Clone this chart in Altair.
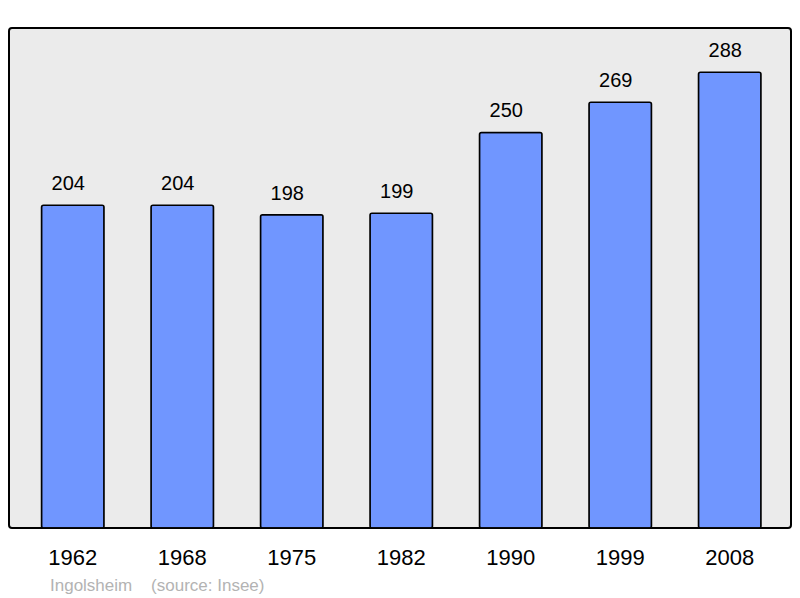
import altair as alt
import pandas as pd

years = ["1962", "1968", "1975", "1982", "1990", "1999", "2008"]
population = [204, 204, 198, 199, 250, 269, 288]
footer = "Ingolsheim\u00a0\u00a0\u00a0\u00a0(source: Insee)"

df = pd.DataFrame({"year": years, "pop": population})

FONT = "Liberation Sans"

x = alt.X(
    "year:N",
    sort=None,
    title=None,
    scale=alt.Scale(paddingInner=0.429, paddingOuter=0.2855, align=0.52),
    axis=alt.Axis(
        labelAngle=0,
        labelFontSize=22,
        labelFont=FONT,
        labelColor="black",
        domain=False,
        ticks=False,
        tickSize=0,
        labelPadding=19,
        grid=False,
    ),
)
y = alt.Y("pop:Q", scale=alt.Scale(domain=[0, 316], nice=False, zero=True), axis=None)

bars = alt.Chart(df).mark_bar(
    color="#7096ff", stroke="black", strokeWidth=1.5, cornerRadius=2
).encode(x=x, y=y)

labels = alt.Chart(df).mark_text(
    baseline="alphabetic", dy=-15, dx=-4.5, fontSize=20, font=FONT, color="black"
).encode(x=x, y=y, text="pop:Q")

chart = (
    (bars + labels)
    .properties(
        width=782,
        height=500,
        autosize="none",
        padding={"left": 1, "top": 20, "right": 1, "bottom": 69},
        title=alt.TitleParams(
            text=footer,
            orient="bottom",
            anchor="start",
            frame="group",
            fontSize=17,
            font=FONT,
            fontWeight="normal",
            color="#b3b3b3",
            dx=41,
            offset=10,
        ),
    )
    .configure_view(fill="#ebebeb", stroke="black", strokeWidth=2, cornerRadius=3)
)

chart.save("out.html", embed_options={"renderer": "svg", "actions": False})
